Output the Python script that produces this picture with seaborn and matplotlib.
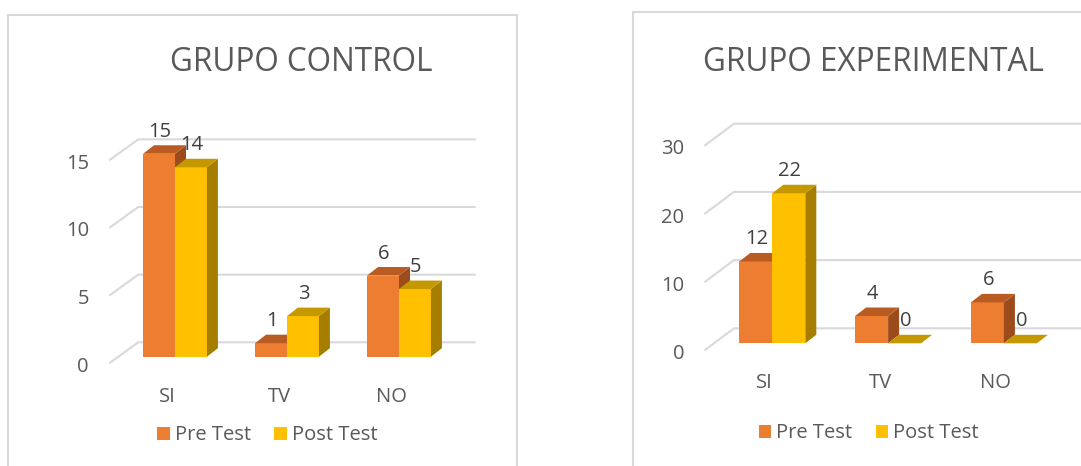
import matplotlib
matplotlib.use("Agg")
import matplotlib.pyplot as plt
from matplotlib.patches import Polygon, Rectangle
import seaborn as sns
import pandas as pd

# data
categories = ["SI", "TV", "NO"]
series = ["Pre Test", "Post Test"]
control_pre = [15, 1, 6]
control_post = [14, 3, 5]
experimental_pre = [12, 4, 6]
experimental_post = [22, 0, 0]
control_ticks = [0, 5, 10, 15]
experimental_ticks = [0, 10, 20, 30]

W, H = 1081, 466
TEXT = "#595959"
LABEL = "#404040"
GRID = "#D9D9D9"
front_col = {"Pre Test": "#ED7D31", "Post Test": "#FFC000"}
top_col = {"Pre Test": "#B95C24", "Post Test": "#C69800"}
side_col = {"Pre Test": "#9E4B1C", "Post Test": "#A57E00"}

sns.set_theme(style="white")
plt.rcParams["font.family"] = ["Open Sans", "DejaVu Sans"]

fig = plt.figure(figsize=(W / 100, H / 100), dpi=100)
fig.patch.set_facecolor("white")


def draw_chart(title, pre, post, ticks, L):
    l, t, r, b = L["axes"]
    ax = fig.add_axes([l / W, 1 - b / H, (r - l) / W, (b - t) / H])
    sx, sy = L["sx"], L["sy"]

    def X(px):
        return (px - L["x0"]) / sx

    df = pd.DataFrame({
        "cat": categories * 2,
        "serie": [series[0]] * len(categories) + [series[1]] * len(categories),
        "valor": pre + post,
    })
    sns.barplot(data=df, x="cat", y="valor", hue="serie", order=categories,
                hue_order=series, palette=[front_col[s] for s in series],
                width=0.57, saturation=1, linewidth=0, ax=ax)
    ax.set_xlim(X(l), X(r))
    ax.set_ylim((L["y0"] - b) / sy, (L["y0"] - t) / sy)
    ax.set_axis_off()

    # back wall gridlines + floor diagonals
    for tk in ticks:
        yb = tk + L["back"] / sy
        yf = tk - L["floor"] / sy
        ax.plot([X(L["diag"]), X(L["back_left"]), X(L["right"])], [yf, yb, yb],
                color=GRID, lw=1.5, zorder=1, clip_on=False)
        ax.text(X(L["diag"] - 21), yf - 9 / sy, str(tk), ha="right", va="baseline",
                fontsize=14.5, color=TEXT)

    # 3d look: side and top faces taken from the seaborn bars
    ddx, ddy = 11 / sx, 8.5 / sy
    bars = []
    for s, cont in zip(series, ax.containers):
        for p in cont:
            bars.append((p.get_x(), s, p))
    bars.sort(key=lambda item: item[0])
    for k, (x, s, p) in enumerate(bars):
        w, h = p.get_width(), p.get_height()
        z = 3 + 0.1 * k
        p.set_zorder(z)
        ax.add_patch(Polygon([(x + w, 0), (x + w + ddx, ddy), (x + w + ddx, h + ddy), (x + w, h)],
                             closed=True, fc=side_col[s], lw=0, zorder=z))
        ax.add_patch(Polygon([(x, h), (x + ddx, h + ddy), (x + w + ddx, h + ddy), (x + w, h)],
                             closed=True, fc=top_col[s], lw=0, zorder=z))
        ax.text(x + w / 2 + 1 / sx, h + 17 / sy, f"{h:.0f}", ha="center", va="baseline",
                fontsize=14.5, color=LABEL, zorder=10)

    for i, c in enumerate(categories):
        ax.text(i - 8 / sx, -45 / sy, c, ha="center", va="baseline", fontsize=14.5, color=TEXT)

    lx, ly = L["legend"]
    sns.move_legend(ax, "center", bbox_to_anchor=(lx / W, 1 - ly / H),
                    bbox_transform=fig.transFigure, ncol=2, title=None, frameon=False,
                    fontsize=14.5, handlelength=0.63, handleheight=0.63,
                    handletextpad=0.25, columnspacing=1.15, labelcolor=TEXT)

    bx0, by0, bx1 = L["box"]
    fig.add_artist(Rectangle((bx0 / W, 1 - 490 / H), (bx1 - bx0) / W, (490 - by0) / H,
                             transform=fig.transFigure, fill=False, ec=GRID, lw=1.5))
    tx = L["title_x"]
    fig.text(tx / W, 1 - 71 / H, title, ha="center", va="baseline", fontsize=22.7, color=TEXT)


draw_chart("GRUPO CONTROL", control_pre, control_post, control_ticks, {
    "axes": (10, 20, 515, 460), "x0": 175, "sx": 112, "y0": 356.7, "sy": 13.53,
    "back_left": 138.3, "right": 475, "diag": 110, "floor": 6, "back": 14.4,
    "legend": (267.3, 435.3), "box": (8.3, 15.3, 517), "title_x": 301.5,
})
draw_chart("GRUPO EXPERIMENTAL", experimental_pre, experimental_post, experimental_ticks, {
    "axes": (635, 20, 1081, 460), "x0": 772.3, "sx": 115.8, "y0": 343.3, "sy": 6.82,
    "back_left": 734, "right": 1081, "diag": 705, "floor": 6.7, "back": 15,
    "legend": (868.9, 433.4), "box": (632.7, 12, 1110), "title_x": 873.8,
})

fig.savefig("out.png", dpi=100)
